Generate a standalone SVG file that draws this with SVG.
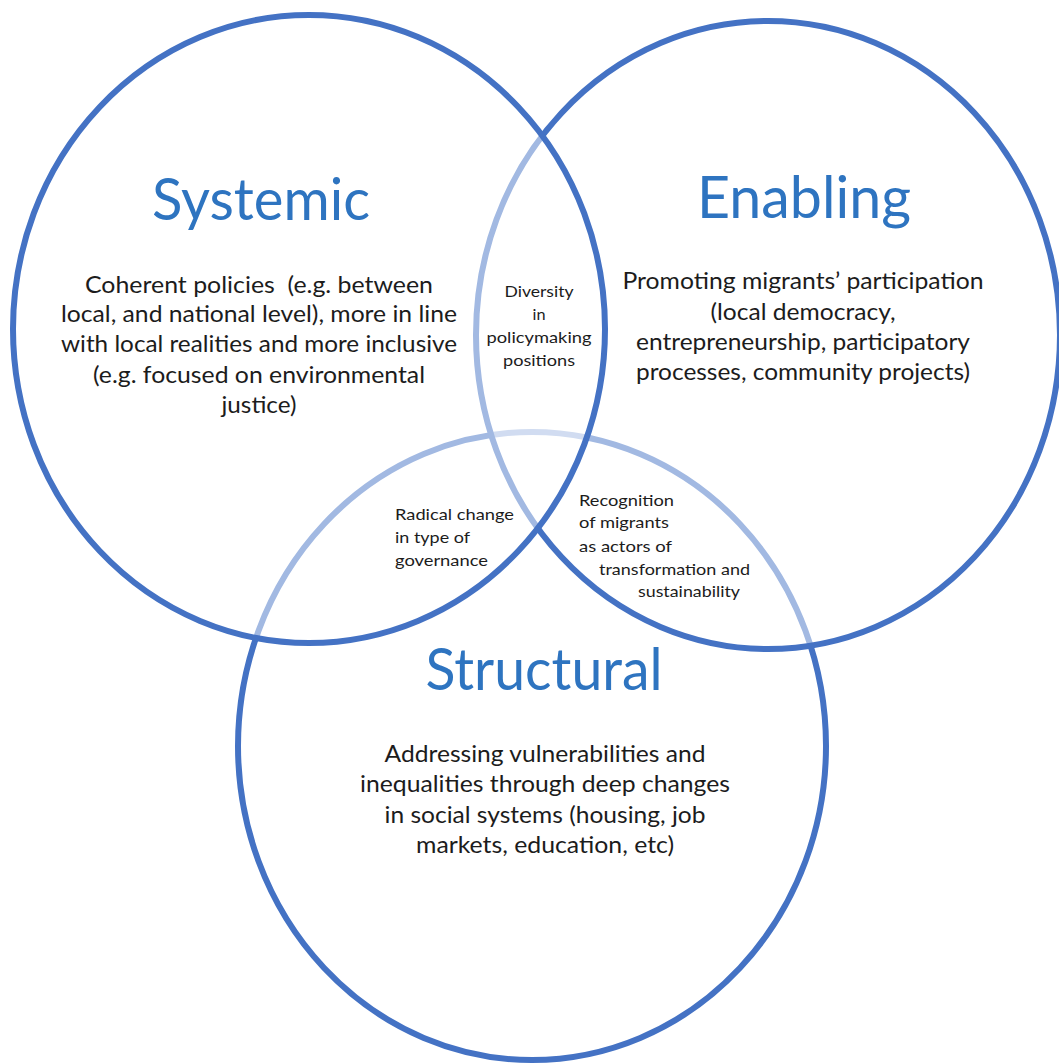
<svg xmlns="http://www.w3.org/2000/svg" width="1059" height="1064" viewBox="0 0 1059 1064">
<style>
.ring{fill:#ffffff;fill-opacity:0.5;stroke:#4472C4;stroke-width:6}
.title{font-family:Lato,"Open Sans","Liberation Sans",sans-serif;font-size:58px;fill:#2E74C0;text-anchor:middle}
.body{font-family:Lato,"Open Sans","Liberation Sans",sans-serif;font-size:23px;fill:#1c1c1c;text-anchor:middle}
.small{font-family:Lato,"Open Sans","Liberation Sans",sans-serif;font-size:16px;fill:#1c1c1c}
.mid{text-anchor:middle}
</style>
<rect x="0" y="0" width="1059" height="1064" fill="#ffffff"/>
<g id="structural">
<ellipse class="ring" cx="532" cy="746" rx="294" ry="314"/>
<text class="title" x="544" y="690" textLength="237" lengthAdjust="spacingAndGlyphs">Structural</text>
<text class="body" x="545" y="762" textLength="321" lengthAdjust="spacingAndGlyphs">Addressing vulnerabilities and</text>
<text class="body" x="545" y="792" textLength="370" lengthAdjust="spacingAndGlyphs">inequalities through deep changes</text>
<text class="body" x="545" y="823" textLength="321" lengthAdjust="spacingAndGlyphs">in social systems (housing, job</text>
<text class="body" x="545" y="853" textLength="258" lengthAdjust="spacingAndGlyphs">markets, education, etc)</text>
</g>
<g id="enabling">
<ellipse class="ring" cx="768" cy="335" rx="292" ry="314"/>
<text class="title" x="804" y="218" textLength="214" lengthAdjust="spacingAndGlyphs">Enabling</text>
<text class="body" x="803" y="289" textLength="361" lengthAdjust="spacingAndGlyphs">Promoting migrants’ participation</text>
<text class="body" x="803" y="320" textLength="185" lengthAdjust="spacingAndGlyphs">(local democracy,</text>
<text class="body" x="803" y="350" textLength="334" lengthAdjust="spacingAndGlyphs">entrepreneurship, participatory</text>
<text class="body" x="803" y="380" textLength="334" lengthAdjust="spacingAndGlyphs">processes, community projects)</text>
</g>
<g id="systemic">
<ellipse class="ring" cx="309" cy="329" rx="296" ry="314"/>
<text class="title" x="261" y="220" textLength="218" lengthAdjust="spacingAndGlyphs">Systemic</text>
<text class="body" x="259" y="293" textLength="348" lengthAdjust="spacingAndGlyphs" xml:space="preserve">Coherent policies  (e.g. between</text>
<text class="body" x="259" y="322" textLength="396" lengthAdjust="spacingAndGlyphs">local, and national level), more in line</text>
<text class="body" x="259" y="352" textLength="396" lengthAdjust="spacingAndGlyphs">with local realities and more inclusive</text>
<text class="body" x="259" y="383" textLength="332" lengthAdjust="spacingAndGlyphs">(e.g. focused on environmental</text>
<text class="body" x="259" y="413" textLength="75" lengthAdjust="spacingAndGlyphs">justice)</text>
</g>
<g id="systemic-enabling">
<text class="small mid" x="539" y="297" textLength="69" lengthAdjust="spacingAndGlyphs">Diversity</text>
<text class="small mid" x="539" y="320" textLength="13" lengthAdjust="spacingAndGlyphs">in</text>
<text class="small mid" x="539" y="343" textLength="105" lengthAdjust="spacingAndGlyphs">policymaking</text>
<text class="small mid" x="539" y="366" textLength="72" lengthAdjust="spacingAndGlyphs">positions</text>
</g>
<g id="systemic-structural">
<text class="small" x="395" y="520" textLength="119" lengthAdjust="spacingAndGlyphs">Radical change</text>
<text class="small" x="395" y="543" textLength="75" lengthAdjust="spacingAndGlyphs">in type of</text>
<text class="small" x="395" y="566" textLength="93" lengthAdjust="spacingAndGlyphs">governance</text>
</g>
<g id="enabling-structural">
<text class="small" x="579" y="506" textLength="95" lengthAdjust="spacingAndGlyphs">Recognition</text>
<text class="small" x="579" y="528" textLength="90" lengthAdjust="spacingAndGlyphs">of migrants</text>
<text class="small" x="579" y="552" textLength="93" lengthAdjust="spacingAndGlyphs">as actors of</text>
<text class="small" x="599" y="575" textLength="151" lengthAdjust="spacingAndGlyphs">transformation and</text>
<text class="small" x="638" y="597" textLength="102" lengthAdjust="spacingAndGlyphs">sustainability</text>
</g>
<g id="connectors"/>
</svg>
